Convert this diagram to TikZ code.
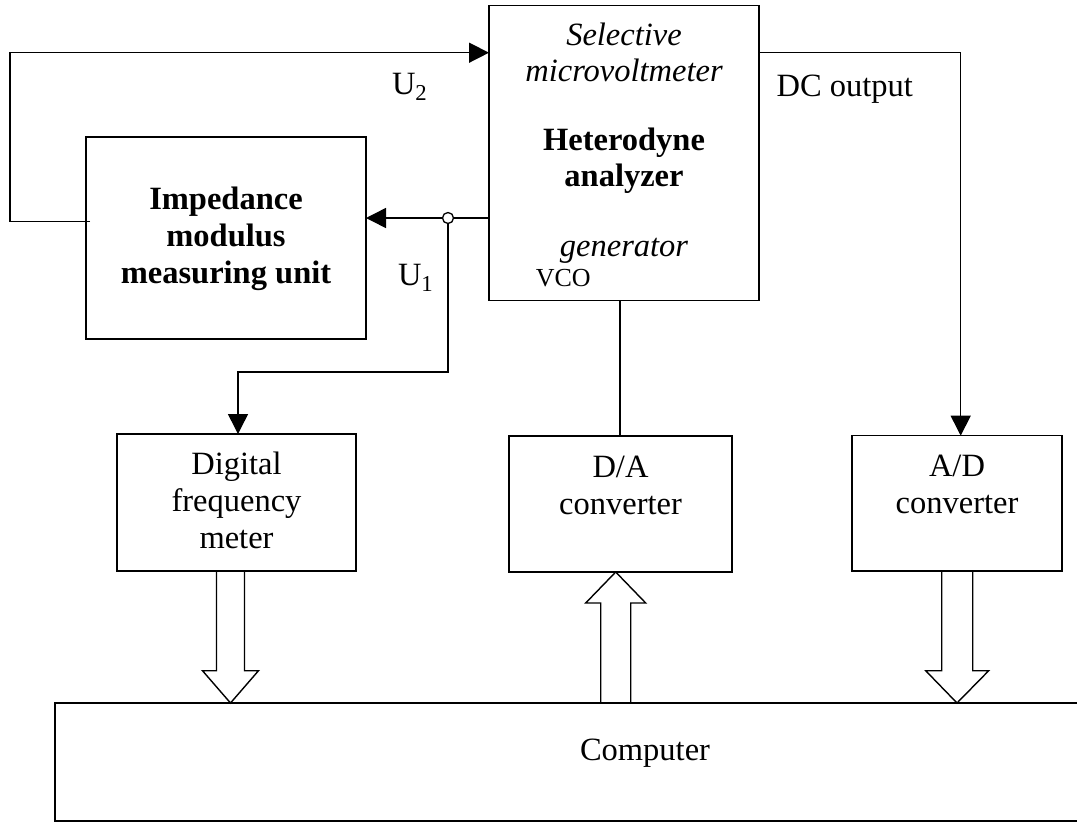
\documentclass[tikz,border=0pt]{standalone}
\usepackage{fontspec}
\setmainfont{Liberation Serif}
\usetikzlibrary{arrows.meta,calc}
\begin{document}
\begin{tikzpicture}[x=1pt,y=-1pt,
  wire/.style={line width=1.5pt},
  tip/.style={-{Triangle[length=20pt,width=20pt]}},
  blk/.style={draw,line width=1.5pt,inner sep=0pt,outer sep=0pt},
  fat/.style={draw,line width=1.4pt,fill=white,line join=miter},
  txt/.style={anchor=base,inner sep=0pt,outer sep=0pt,align=center,font=\fontsize{32.5}{36.7}\selectfont},
  small/.style={anchor=base west,inner sep=0pt,outer sep=0pt,font=\fontsize{26}{30}\selectfont},
  lbl/.style={anchor=base west,inner sep=0pt,outer sep=0pt,font=\fontsize{32.5}{36.7}\selectfont},
  junc/.style={circle,draw,line width=1.3pt,fill=white,inner sep=0pt,minimum size=11pt,outer sep=0pt}]
\clip (0,0) rectangle (1077,823);
\fill[white] (0,0) rectangle (1077,823);

% hollow bus arrows (drawn first so box outlines stay on top)
\draw[fat] (216.5,571) -- (216.5,670.7) -- (202.5,670.7) -- (230.5,703) -- (258.5,670.7) -- (244.5,670.7) -- (244.5,571);
\draw[fat] (600.7,703) -- (600.7,603) -- (585.7,603) -- (615.7,572) -- (645.7,603) -- (630.7,603) -- (630.7,703);
\draw[fat] (941.7,571) -- (941.7,670.7) -- (925.7,670.7) -- (957,703) -- (988.7,670.7) -- (972.7,670.7) -- (972.7,571);

% blocks
\node[blk,minimum width=270pt,minimum height=295.4pt] (het) at (624,153) {};
\node[blk,minimum width=280pt,minimum height=202pt] (imp) at (226,238) {};
\node[blk,minimum width=239pt,minimum height=137pt] (dfm) at (236.5,502.5) {};
\node[blk,minimum width=223pt,minimum height=136pt] (da) at (620.5,504) {};
\node[blk,minimum width=210pt,minimum height=135.3pt] (ad) at (957,503.3) {};
\node[blk,line width=2pt,minimum width=1180pt,minimum height=118pt] (comp) at (645,762) {};

% texts (base anchor = baseline of the last line)
\node[txt] (t1) at (624,81.7) {\itshape Selective\\ \itshape microvoltmeter};
\node[txt] (t2) at (624,186.7) {\bfseries Heterodyne\\ \bfseries analyzer};
\node[txt] (t3) at (624,256.7) {\itshape generator};
\node[small] (t4) at (535.8,286.7) {VCO};
\node[txt] (t5) at (226,283.3) {\bfseries Impedance\\ \bfseries modulus\\ \bfseries measuring unit};
\node[txt] (t6) at (236.5,548) {Digital\\ frequency\\ meter};
\node[txt] (t7) at (620.5,514) {D/A\\ converter};
\node[txt] (t8) at (957,513.3) {A/D\\ converter};
\node[txt] (t9) at (645,760) {Computer};
\node[lbl] (u2) at (392,94) {U\textsubscript{2}};
\node[lbl] (u1) at (398,285) {U\textsubscript{1}};
\node[lbl] (dco) at (776.6,96.7) {DC output};

% U2 feedback loop
\coordinate (u2b) at (10,221.7);
\coordinate (u2t) at (10,52.7);
\draw[wire,tip] ([xshift=4pt]imp.west |- u2b) -- (u2b) -- (u2t) -- (het.west |- u2t);

% U1 with junction
\node[junc] (j) at (448,218) {};
\draw[wire] (het.west |- j) -- (j);
\draw[wire,tip] (j) -- (imp.east |- j);
\coordinate (fc) at (238,372);
\draw[wire,tip] (j) |- (fc) -- (dfm.north -| fc);

% VCO to D/A
\coordinate (vco) at (620,0);
\draw[wire] (het.south -| vco) -- (da.north -| vco);

% DC output to A/D
\coordinate (dc) at (960.7,52.7);
\draw[wire,tip] (het.east |- dc) -- (dc) -- (ad.north -| dc);
\end{tikzpicture}
\end{document}
